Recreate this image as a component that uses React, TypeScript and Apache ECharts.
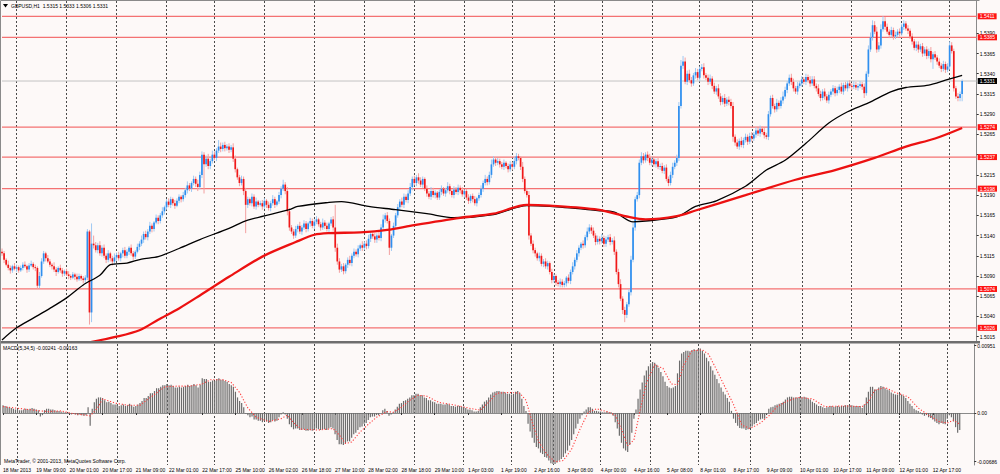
import { useEffect, useRef } from "react";
import * as echarts from "echarts";

// ---------- data (prices in pips above PRICE_BASE) ----------
const PRICE_BASE = 1.5;
const PIP = 0.0001;
const FIRST_OPEN = 120;

const CLOSE = [
  118, 110, 104, 100, 97, 102, 99, 101, 97, 100,
  104, 102, 98, 103, 105, 101, 100, 78, 90, 108,
  118, 112, 108, 104, 102, 98, 95, 100, 97, 93,
  96, 92, 90, 88, 92, 89, 86, 90, 87, 85,
  88, 145, 45, 130, 128, 122, 128, 118, 125, 115,
  110, 118, 112, 108, 113, 116, 112, 118, 122, 115,
  120, 125, 118, 114, 120, 126, 130, 135, 142, 138,
  145, 152, 148, 156, 162, 158, 165, 170, 175, 182,
  178, 185, 180, 177, 183, 188, 185, 190, 196, 202,
  198, 205, 210, 204, 200, 215, 240, 228, 235, 226,
  232, 240, 236, 245, 250, 247, 252, 248, 250, 246,
  249, 235, 222, 212, 205, 210, 195, 178, 185, 180,
  188, 176, 182, 178, 180, 176, 183, 178, 174, 180,
  185, 178, 182, 190, 198, 203, 195, 170, 150, 145,
  140, 148, 152, 145, 150, 155, 148, 155, 158, 152,
  157, 160, 154, 150, 156, 152, 148, 155, 160, 150,
  125, 108, 98, 102, 96, 104, 110, 106, 115, 120,
  117, 124, 128, 125, 130, 127, 136, 142, 139, 135,
  140, 137, 150, 160, 165, 158, 125, 140, 152, 165,
  175, 182, 178, 188, 184, 192, 200, 210, 205, 212,
  208, 203, 210, 198, 192, 188, 195, 190, 193, 187,
  194, 198, 192, 196, 201, 195, 190, 197, 194, 199,
  196, 191, 195, 187, 183, 189, 185, 180, 186, 190,
  198, 205, 210, 206, 215, 228, 234, 230, 232, 228,
  225, 230, 226, 222, 228, 225, 232, 238, 236, 225,
  210, 195, 190, 140, 130, 122, 118, 112, 115, 105,
  108, 102, 106, 95, 85, 90, 82, 80, 83, 79,
  81, 88, 84, 95, 102, 110, 118, 125, 130, 128,
  138, 145, 150, 146, 140, 132, 136, 133, 137, 130,
  135, 138, 132, 134, 120, 95, 80, 62, 48, 42,
  55, 70, 110, 150, 185, 190, 230, 238, 233, 240,
  236, 230, 234, 228, 232, 225, 226, 220, 224, 210,
  205, 215, 225, 230, 236, 300, 350, 355, 330, 340,
  332, 328, 338, 342, 335, 346, 348, 338, 335, 330,
  334, 325, 318, 322, 312, 305, 310, 303, 308, 305,
  300, 262, 255, 250, 257, 252, 258, 262, 256, 263,
  260, 265, 270, 266, 272, 268, 264, 262, 290, 310,
  300, 296, 304, 300, 307, 312, 320, 328, 335, 330,
  322, 318, 325, 328, 333, 330, 336, 332, 328, 333,
  325, 322, 315, 310, 318, 312, 307, 314, 318, 322,
  316, 320, 324, 318, 326, 322, 328, 325, 324, 326,
  323, 325, 327, 324, 316, 340, 370, 385, 400, 392,
  370, 375, 395, 405, 398, 392, 388, 394, 386, 388,
  392, 390, 398, 402, 396, 393, 386, 380, 372, 376,
  370, 374, 365, 370, 362, 368, 358, 364, 360, 355,
  350, 346, 352, 345, 349, 375, 368, 322, 312, 310,
  315, 331,
];

const WICK_UP = [
  4, 3, 2, 5, 3, 2, 4, 3, 2, 3,
  3, 4, 2, 3, 4, 2, 3, 2, 5, 4,
  3, 2, 4, 3, 2, 5, 3, 2, 4, 3,
  2, 3, 4, 2, 3, 2, 4, 3, 2, 3,
  3, 3, 2, 25, 10, 4, 3, 5, 3, 4,
  3, 4, 2, 3, 5, 3, 4, 2, 3, 4,
  3, 2, 4, 3, 2, 4, 3, 5, 3, 4,
  3, 5, 3, 2, 4, 3, 3, 5, 2, 3,
  4, 3, 2, 4, 3, 3, 2, 4, 3, 5,
  3, 2, 4, 3, 5, 4, 4, 3, 4, 6,
  3, 5, 4, 3, 8, 5, 3, 4, 3, 4,
  3, 5, 4, 2, 3, 4, 3, 4, 3, 2,
  4, 3, 5, 2, 3, 4, 3, 2, 4, 3,
  5, 3, 2, 4, 3, 6, 3, 5, 4, 3,
  3, 4, 2, 5, 3, 4, 3, 2, 4, 3,
  3, 4, 2, 3, 5, 3, 4, 2, 3, 4,
  28, 5, 4, 3, 4, 2, 3, 5, 3, 4,
  3, 4, 2, 5, 3, 4, 5, 3, 2, 4,
  3, 5, 4, 6, 3, 4, 3, 2, 4, 3,
  4, 3, 5, 4, 3, 4, 5, 3, 4, 3,
  5, 4, 3, 2, 4, 3, 5, 4, 3, 2,
  3, 4, 2, 3, 5, 3, 2, 4, 3, 4,
  3, 4, 2, 3, 4, 2, 3, 4, 2, 3,
  4, 3, 5, 3, 4, 6, 4, 3, 4, 3,
  3, 4, 2, 3, 4, 3, 5, 4, 3, 2,
  6, 3, 4, 5, 3, 4, 3, 2, 4, 3,
  3, 4, 3, 2, 4, 3, 2, 3, 4, 3,
  3, 2, 4, 3, 5, 3, 4, 3, 2, 4,
  3, 5, 4, 3, 4, 3, 4, 3, 5, 3,
  4, 3, 4, 3, 5, 3, 4, 6, 3, 4,
  3, 4, 5, 6, 3, 4, 4, 5, 4, 3,
  4, 5, 3, 4, 3, 5, 3, 4, 3, 4,
  3, 4, 5, 3, 4, 5, 7, 7, 5, 4,
  5, 4, 3, 5, 4, 3, 4, 5, 3, 4,
  5, 3, 4, 3, 5, 4, 3, 5, 3, 4,
  4, 5, 3, 4, 3, 5, 3, 4, 3, 4,
  5, 3, 4, 3, 4, 3, 5, 3, 4, 3,
  4, 3, 5, 3, 4, 6, 4, 3, 4, 5,
  4, 3, 5, 3, 4, 3, 4, 3, 5, 4,
  4, 3, 5, 4, 3, 4, 3, 4, 3, 4,
  3, 4, 3, 5, 3, 4, 3, 4, 3, 5,
  4, 3, 4, 3, 4, 3, 5, 6, 6, 5,
  6, 4, 6, 6, 5, 4, 3, 4, 3, 4,
  3, 4, 4, 4, 3, 4, 3, 4, 3, 4,
  4, 3, 4, 3, 4, 3, 5, 3, 4, 3,
  4, 3, 4, 3, 4, 5, 4, 3, 3, 4,
  3, 2,
];

const WICK_DN = [
  3, 4, 2, 3, 4, 3, 2, 4, 3, 2,
  3, 2, 4, 3, 2, 3, 4, 4, 3, 2,
  3, 4, 2, 3, 4, 3, 5, 2, 3, 4,
  3, 2, 4, 3, 2, 4, 3, 2, 3, 4,
  3, 3, 15, 12, 4, 3, 4, 3, 4, 3,
  4, 3, 4, 5, 3, 4, 3, 4, 5, 3,
  3, 4, 3, 4, 3, 2, 4, 3, 4, 3,
  4, 3, 4, 3, 2, 4, 3, 3, 4, 3,
  3, 4, 3, 4, 2, 3, 4, 3, 3, 4,
  3, 4, 3, 4, 5, 3, 4, 36, 3, 4,
  4, 3, 3, 4, 3, 4, 3, 4, 3, 4,
  3, 4, 4, 3, 4, 3, 5, 35, 4, 3,
  4, 3, 4, 3, 2, 4, 3, 4, 3, 4,
  3, 4, 2, 3, 4, 3, 4, 5, 4, 3,
  4, 3, 4, 3, 4, 3, 4, 3, 4, 3,
  4, 3, 3, 4, 3, 4, 3, 4, 3, 4,
  5, 4, 4, 3, 4, 3, 4, 3, 4, 3,
  3, 4, 3, 4, 3, 4, 3, 4, 3, 4,
  4, 3, 4, 3, 4, 3, 9, 4, 3, 4,
  3, 4, 3, 4, 3, 4, 3, 4, 3, 4,
  4, 3, 4, 3, 4, 3, 4, 3, 4, 3,
  3, 4, 3, 4, 3, 4, 3, 4, 3, 4,
  4, 3, 4, 3, 4, 3, 4, 3, 4, 3,
  3, 4, 3, 4, 3, 4, 3, 4, 3, 4,
  3, 4, 3, 4, 3, 4, 3, 4, 3, 4,
  4, 3, 3, 5, 3, 4, 4, 3, 4, 3,
  4, 3, 4, 3, 4, 3, 4, 3, 4, 3,
  3, 4, 3, 4, 3, 4, 3, 4, 3, 4,
  3, 4, 3, 4, 3, 4, 3, 4, 3, 4,
  4, 3, 4, 3, 4, 3, 4, 3, 5, 9,
  4, 3, 4, 3, 4, 3, 4, 3, 4, 3,
  4, 3, 4, 3, 4, 3, 4, 3, 4, 3,
  4, 3, 4, 3, 4, 4, 3, 4, 3, 4,
  3, 4, 3, 4, 3, 4, 3, 4, 3, 4,
  3, 4, 3, 4, 3, 4, 3, 4, 3, 4,
  3, 6, 4, 3, 4, 3, 4, 3, 4, 3,
  4, 3, 4, 3, 4, 3, 4, 3, 4, 3,
  3, 4, 3, 4, 3, 4, 3, 4, 3, 4,
  4, 3, 4, 3, 4, 3, 4, 3, 4, 3,
  3, 4, 3, 4, 3, 4, 3, 4, 3, 4,
  4, 3, 4, 3, 4, 3, 4, 3, 4, 3,
  3, 4, 3, 4, 6, 3, 4, 3, 4, 3,
  4, 3, 4, 3, 4, 3, 4, 3, 4, 3,
  3, 4, 3, 4, 3, 4, 3, 4, 3, 4,
  4, 3, 4, 3, 4, 3, 4, 12, 3, 4,
  3, 4, 3, 4, 3, 4, 3, 4, 3, 4,
  4, 9,
];

// moving averages: [bar index, pips above base]
const MA_BLACK = [
  [0, 11], [7, 26], [15, 38], [23, 50], [31, 63], [39, 79], [47, 91], [52, 104],
  [60, 106], [67, 111], [75, 114], [85, 124], [95, 135], [109, 149], [118, 159],
  [138, 172], [142, 176], [157, 181], [163, 182], [176, 176], [189, 172],
  [204, 167], [217, 162], [236, 166], [252, 177], [263, 176], [286, 171],
  [294, 169], [303, 157], [309, 158], [324, 163], [333, 176], [343, 183],
  [357, 201], [367, 221], [376, 233], [386, 254], [397, 279], [406, 293],
  [416, 304], [427, 318], [434, 323], [445, 326], [453, 332], [461, 338],
];
const MA_RED = [
  [42, 8], [55, 15], [66, 23], [75, 36], [85, 50], [95, 66], [109, 89],
  [125, 114], [141, 132], [150, 141], [157, 143], [172, 144], [185, 147],
  [198, 153], [220, 162], [236, 167], [252, 178], [263, 177], [286, 172],
  [301, 163], [309, 160], [324, 164], [333, 171], [357, 190], [362, 194],
  [381, 209], [400, 221], [419, 236], [434, 250], [448, 260], [461, 273],
];

// MACD(5,34,5) main values, units of 0.0001
const MACD_HIST = [
  11, 10, 9, 8, 7, 6, 5, 5, 4, 4,
  5, 6, 5, 6, 7, 6, 5, 4, -5, -3,
  4, 6, 6, 5, 5, 4, 3, 3, 2, 1,
  1, 0, -1, -2, -1, -2, -3, -2, -3, -4,
  -3, 8, -18, 6, 15, 20, 22, 22, 21, 18,
  15, 16, 14, 12, 12, 12, 10, 11, 12, 10,
  11, 13, 11, 9, 10, 12, 14, 17, 21, 21,
  24, 28, 28, 31, 35, 35, 37, 39, 39, 41,
  39, 40, 38, 36, 36, 37, 36, 37, 38, 40,
  38, 39, 41, 39, 36, 40, 49, 48, 48, 44,
  44, 46, 45, 48, 49, 47, 47, 45, 44, 41,
  39, 37, 30, 22, 17, 14, 8, -1, -3, -6,
  -5, -9, -9, -11, -11, -13, -11, -12, -14, -13,
  -10, -12, -11, -6, -2, 1, -2, -8, -16, -20,
  -23, -22, -22, -24, -24, -23, -25, -25, -24, -25,
  -24, -22, -23, -24, -23, -23, -24, -22, -20, -22,
  -30, -38, -44, -44, -45, -43, -40, -40, -35, -30,
  -28, -24, -20, -19, -15, -14, -10, -6, -5, -5,
  -3, -3, 0, 4, 6, 3, -4, -2, 1, 5,
  9, 13, 14, 17, 18, 20, 22, 25, 25, 27,
  27, 25, 25, 22, 21, 18, 18, 16, 15, 13,
  13, 13, 12, 12, 13, 12, 10, 10, 9, 10,
  10, 9, 9, 7, 5, 5, 4, 2, 2, 3,
  8, 12, 16, 18, 22, 26, 29, 30, 31, 31,
  30, 30, 29, 27, 27, 26, 27, 30, 31, 28,
  20, 10, 3, -15, -26, -35, -42, -48, -50, -56,
  -58, -62, -63, -67, -71, -72, -72, -70, -67, -65,
  -62, -57, -53, -46, -38, -30, -22, -15, -8, -3,
  2, 5, 8, 8, 6, 3, 3, 2, 2, 1,
  1, 2, 1, 1, -4, -13, -22, -32, -42, -50,
  -53, -55, -45, -28, -8, 5, 20, 33, 43, 53,
  60, 66, 70, 72, 71, 68, 64, 58, 52, 44,
  38, 36, 35, 36, 38, 56, 74, 84, 86, 88,
  88, 87, 89, 90, 89, 90, 91, 88, 84, 78,
  73, 66, 60, 54, 48, 42, 36, 30, 26, 21,
  16, 3, -8, -14, -18, -21, -22, -22, -24, -23,
  -21, -19, -16, -14, -11, -9, -8, -8, -2, 6,
  8, 9, 11, 12, 13, 14, 16, 19, 22, 23,
  23, 22, 22, 22, 23, 22, 23, 22, 20, 19,
  16, 14, 12, 10, 10, 8, 7, 8, 9, 10,
  9, 9, 10, 9, 10, 10, 11, 11, 11, 11,
  10, 10, 10, 10, 7, 12, 22, 30, 37, 37,
  33, 33, 36, 38, 37, 35, 33, 32, 29, 27,
  26, 26, 27, 26, 24, 21, 17, 13, 10, 6,
  4, 3, 1, -2, -4, -3, -6, -7, -9, -12,
  -14, -16, -14, -15, -16, -8, -3, -6, -12, -20,
  -28, -24,
];

// MACD signal line keypoints: [bar index, units of 0.0001]
const MACD_SIGNAL = [
  [0, 9], [6, 7], [12, 5], [18, 3], [22, 2], [28, 3], [34, -1], [40, -3], [42, -4],
  [44, 2], [46, 9], [48, 20], [54, 14], [60, 11], [66, 11], [72, 24], [78, 37],
  [84, 38], [90, 38], [96, 41], [100, 47], [106, 47], [110, 43], [114, 29],
  [118, 7], [122, -6], [128, -12], [134, -8], [137, -3], [140, -14], [144, -23],
  [152, -24], [159, -22], [162, -31], [165, -43], [168, -41], [172, -27],
  [176, -16], [180, -6], [185, 2], [188, 1], [192, 8], [196, 18], [200, 25],
  [204, 24], [210, 15], [218, 11], [226, 6], [230, 4], [234, 15], [238, 28],
  [244, 29], [249, 28], [252, 18], [255, -13], [258, -40], [262, -58],
  [266, -69], [270, -67], [274, -51], [278, -23], [282, 1], [286, 6], [292, 1],
  [295, -3], [298, -23], [301, -46], [304, -38], [307, 4], [310, 42], [314, 68],
  [318, 63], [322, 41], [325, 40], [328, 68], [332, 88], [337, 89], [340, 83],
  [344, 60], [348, 36], [352, 12], [356, -17], [360, -22], [365, -14],
  [369, -4], [373, 9], [378, 17], [383, 22], [390, 20], [396, 9], [405, 10],
  [414, 9], [417, 16], [420, 32], [425, 36], [430, 29], [436, 23], [441, 7],
  [446, -3], [451, -12], [455, -14], [458, -10], [461, -16],
];

const LEVELS = [1.5411, 1.5385, 1.5274, 1.5237, 1.5198, 1.5074, 1.5026];
const BID = 1.5331;
const PRICE_TICKS = [
  1.5015, 1.504, 1.5065, 1.509, 1.5115, 1.514, 1.5165, 1.519,
  1.5215, 1.524, 1.5265, 1.529, 1.5315, 1.534, 1.5365, 1.539,
];
const PRICE_LABELS_HIDDEN = [1.524]; // covered by the 1.5237 level box
const MACD_TICKS = [-0.00686, 0, 0.00951];
const TIME_LABELS = [
  "18 Mar 2013", "19 Mar 09:00", "20 Mar 01:00", "20 Mar 17:00", "21 Mar 09:00",
  "22 Mar 01:00", "22 Mar 17:00", "25 Mar 10:00", "26 Mar 02:00", "26 Mar 18:00",
  "27 Mar 10:00", "28 Mar 02:00", "28 Mar 18:00", "29 Mar 10:00", "1 Apr 03:00",
  "1 Apr 19:00", "2 Apr 16:00", "3 Apr 08:00", "4 Apr 00:00", "4 Apr 16:00",
  "5 Apr 08:00", "8 Apr 01:00", "8 Apr 17:00", "9 Apr 09:00", "10 Apr 01:00",
  "10 Apr 17:00", "11 Apr 09:00", "12 Apr 01:00", "12 Apr 17:00",
];
const LABEL_STEP = 16;
const DAY_LINES = [7, 31, 55, 79, 102, 126, 150, 174, 198, 222, 245, 265, 288, 312, 335, 360, 384, 408, 432, 455];
const CATEGORY_COUNT = 469;

// ---------- style ----------
const BG = "#fdf9f8";
const FONT = "Liberation Sans";
const BODY_BULL = "#2f8fef";
const WICK_BULL = "#9fc9f3";
const BODY_BEAR = "#f01818";
const WICK_BEAR = "#f3a0a0";

const toPrice = (p: number) => +(PRICE_BASE + p * PIP).toFixed(5);

export default function App() {
  const ref = useRef<HTMLDivElement>(null);

  useEffect(() => {
    if (!ref.current) return;
    const chart = echarts.init(ref.current, undefined, { renderer: "svg" });

    const cats = Array.from({ length: CATEGORY_COUNT }, (_, i) => String(i));
    const candles = CLOSE.map((c, i) => {
      const o = i === 0 ? FIRST_OPEN : CLOSE[i - 1];
      const hi = Math.max(o, c) + WICK_UP[i];
      const lo = Math.min(o, c) - WICK_DN[i];
      return [i, toPrice(o), toPrice(c), toPrice(lo), toPrice(hi)];
    });
    const isLabel = (idx: number) => idx % LABEL_STEP === 0 && idx / LABEL_STEP < TIME_LABELS.length;
    const isDay = (idx: number) => DAY_LINES.indexOf(idx) >= 0;
    const gridLine = { show: true, interval: isDay, lineStyle: { color: "#4a4a4a", type: [2, 2], width: 1 } };

    const PRICE_MIN = 1.50097;
    const PRICE_MAX = 1.54299;
    const MACD_MIN = -0.00734;
    const MACD_MAX = 0.00974;

    const baseLabel = { fontFamily: FONT, fontSize: 5, color: "#000" };
    const shownPriceLabels = PRICE_TICKS.filter((v) => PRICE_LABELS_HIDDEN.indexOf(v) < 0);

    const levelSeries = [
      ...LEVELS.map((v) => ({ v, color: "#f47272", width: 1.2 })),
      { v: BID, color: "#c4c4c4", width: 1 },
    ].map(({ v, color, width }) => ({
      type: "line", xAxisIndex: 0, yAxisIndex: 0, z: 1, silent: true,
      data: [[0, v], [CATEGORY_COUNT - 1, v]],
      symbol: "none", lineStyle: { color, width, type: "solid" },
    }));

    const option: any = {
      animation: false,
      backgroundColor: BG,
      grid: [
        { left: 2, top: 1, width: 977, height: 340 },
        { left: 2, top: 344, width: 977, height: 121 },
      ],
      xAxis: [
        {
          type: "category", gridIndex: 0, data: cats, boundaryGap: false,
          axisLine: { show: false }, axisTick: { show: false }, axisLabel: { show: false },
          splitLine: gridLine,
        },
        {
          type: "category", gridIndex: 1, data: cats, boundaryGap: false,
          axisLine: { show: true, lineStyle: { color: "#8a8a8a", width: 1 } },
          axisTick: { show: true, interval: isLabel, length: 2, lineStyle: { color: "#333" } },
          axisLabel: {
            show: true, interval: isLabel, align: "left", margin: 2, ...baseLabel,
            formatter: (_v: string, idx: number) => TIME_LABELS[idx / LABEL_STEP] ?? "",
          },
          splitLine: gridLine,
        },
      ],
      yAxis: [
        {
          type: "value", gridIndex: 0, position: "right", min: PRICE_MIN, max: PRICE_MAX,
          axisLine: { show: true, lineStyle: { color: "#8a8a8a" } },
          axisTick: { show: true, customValues: PRICE_TICKS, length: 2, lineStyle: { color: "#333" } },
          axisLabel: { show: true, customValues: shownPriceLabels, margin: 3, ...baseLabel, formatter: (v: number) => v.toFixed(4) },
          splitLine: { show: false },
        },
        {
          type: "value", gridIndex: 1, position: "right", min: MACD_MIN, max: MACD_MAX,
          axisLine: { show: true, lineStyle: { color: "#8a8a8a" } },
          axisTick: { show: true, customValues: MACD_TICKS, length: 2, lineStyle: { color: "#333" } },
          axisLabel: {
            show: true, customValues: MACD_TICKS, margin: 3, ...baseLabel,
            formatter: (v: number) => (v === 0 ? "0.00" : v.toFixed(5)),
          },
          splitLine: { show: false },
        },
        {
          type: "value", gridIndex: 0, position: "right", min: PRICE_MIN, max: PRICE_MAX, z: 5,
          axisLine: { show: false }, axisTick: { show: false }, splitLine: { show: false },
          axisLabel: {
            show: true, customValues: LEVELS, margin: 1, fontFamily: FONT, fontSize: 5,
            color: "#fff", backgroundColor: "#ff1414", padding: [1, 2, 0, 2],
            formatter: (v: number) => v.toFixed(4),
          },
        },
        {
          type: "value", gridIndex: 0, position: "right", min: PRICE_MIN, max: PRICE_MAX, z: 6,
          axisLine: { show: false }, axisTick: { show: false }, splitLine: { show: false },
          axisLabel: {
            show: true, customValues: [BID], margin: 1, fontFamily: FONT, fontSize: 5,
            color: "#fff", backgroundColor: "#000", padding: [1, 2, 0, 2],
            formatter: (v: number) => v.toFixed(4),
          },
        },
      ],
      series: [
        ...levelSeries,
        {
          type: "custom", name: "GBPUSD", xAxisIndex: 0, yAxisIndex: 0, z: 2,
          encode: { x: 0, y: [1, 2, 3, 4] },
          data: candles,
          renderItem: (_params: any, api: any) => {
            const i = api.value(0);
            const o = api.value(1);
            const c = api.value(2);
            const lo = api.value(3);
            const hi = api.value(4);
            const pH = api.coord([i, hi]);
            const pL = api.coord([i, lo]);
            const pO = api.coord([i, o]);
            const pC = api.coord([i, c]);
            const x = pH[0];
            const bull = c >= o;
            const top = Math.min(pO[1], pC[1]);
            const h = Math.max(1, Math.abs(pO[1] - pC[1]));
            return {
              type: "group",
              children: [
                { type: "line", shape: { x1: x, y1: pH[1], x2: x, y2: pL[1] }, style: { stroke: bull ? WICK_BULL : WICK_BEAR, lineWidth: 1 } },
                { type: "rect", shape: { x: x - 0.85, y: top, width: 1.7, height: h }, style: { fill: bull ? BODY_BULL : BODY_BEAR } },
              ],
            };
          },
        },
        {
          type: "line", name: "MA black", xAxisIndex: 0, yAxisIndex: 0, z: 3,
          data: MA_BLACK.map(([i, p]) => [i, toPrice(p)]),
          symbol: "none", smooth: 0.3, lineStyle: { color: "#000", width: 1.3 },
        },
        {
          type: "line", name: "MA red", xAxisIndex: 0, yAxisIndex: 0, z: 3,
          data: MA_RED.map(([i, p]) => [i, toPrice(p)]),
          symbol: "none", smooth: 0.3, lineStyle: { color: "#ec1111", width: 2.3 },
        },
        {
          type: "bar", name: "MACD", xAxisIndex: 1, yAxisIndex: 1, barWidth: 1.2,
          data: MACD_HIST.map((v) => +(v * PIP).toFixed(5)),
          itemStyle: { color: "#6c6c6c" },
        },
        {
          type: "line", name: "Signal", xAxisIndex: 1, yAxisIndex: 1, z: 4,
          data: MACD_SIGNAL.map(([i, v]) => [i, +(v * PIP).toFixed(5)]),
          symbol: "none", lineStyle: { color: "#ff3d3d", width: 1.1, type: [1.2, 1.8] },
        },
      ],
      graphic: [
        { type: "rect", shape: { x: 0, y: 341, width: 980, height: 2.6 }, style: { fill: "#6e6e6e" }, z: 10 },
        { type: "line", shape: { x1: 0.5, y1: 0.5, x2: 979.5, y2: 0.5 }, style: { stroke: "#8a8a8a", lineWidth: 1 }, z: 10 },
        { type: "line", shape: { x1: 0.5, y1: 0.5, x2: 0.5, y2: 465 }, style: { stroke: "#8a8a8a", lineWidth: 1 }, z: 10 },
        { type: "polygon", shape: { points: [[3, 4], [8, 4], [5.5, 7.5]] }, style: { fill: "#000" }, z: 10 },
        {
          type: "text", x: 11, y: 6, z: 10,
          style: { text: "GBPUSD,H1  1.5315 1.5333 1.5306 1.5331", fontFamily: FONT, fontSize: 5, fill: "#000", verticalAlign: "middle" },
        },
        {
          type: "text", x: 3, y: 348, z: 10,
          style: { text: "MACD(5,34,5) -0.00241 -0.00163", fontFamily: FONT, fontSize: 5, fill: "#000", verticalAlign: "middle" },
        },
        {
          type: "text", x: 4, y: 461, z: 10,
          style: { text: "MetaTrader, © 2001-2013, MetaQuotes Software Corp.", fontFamily: FONT, fontSize: 5, fill: "#000", verticalAlign: "middle" },
        },
      ],
    };

    chart.setOption(option);
    return () => chart.dispose();
  }, []);

  return (
    <div
      ref={ref}
      style={{ position: "fixed", left: 0, top: 0, width: 1000, height: 474, background: BG }}
    />
  );
}
